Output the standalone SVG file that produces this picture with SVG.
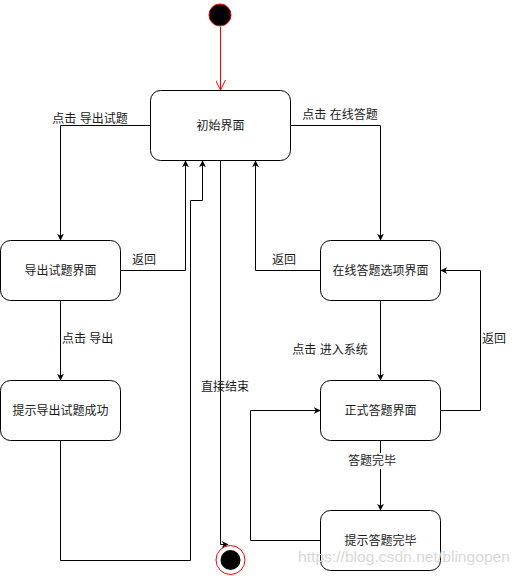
<svg xmlns="http://www.w3.org/2000/svg" width="521" height="576" viewBox="0 0 521 576">
<style>
.node rect{fill:#fff;stroke:#000;stroke-width:1}
text{font-family:"Liberation Sans","Noto Sans CJK SC",sans-serif;font-size:12px;fill:#1a1a1a}
.c{text-anchor:middle;dominant-baseline:central}
.e{fill:none;stroke:#000;stroke-width:1}
.wm{font-size:15px;fill:#d8d8d8;font-family:"Liberation Sans",sans-serif}
</style>
<defs>
<marker id="a" viewBox="0 0 10 10" refX="9" refY="5" markerWidth="7" markerHeight="7" orient="auto" markerUnits="userSpaceOnUse">
<path d="M0,0 L10,5 L0,10 L3,5 Z" fill="#000"/>
</marker>
<marker id="ra" viewBox="0 0 10 10" refX="10" refY="5" markerWidth="10" markerHeight="10" orient="auto" markerUnits="userSpaceOnUse">
<path d="M0,0 L10,5 L0,10" fill="none" stroke="#f00" stroke-width="1"/>
</marker>
</defs>
<g id="start"><circle cx="220" cy="15" r="11" fill="#000" stroke="#f00"/></g>
<g id="n-init" class="node"><rect x="150.5" y="90.5" width="140" height="70" rx="10"/><text class="c" x="220.5" y="125.5">初始界面</text></g>
<g id="n-export" class="node"><rect x="0.5" y="240.5" width="120" height="60" rx="10"/><text class="c" x="60.5" y="270.5">导出试题界面</text></g>
<g id="n-exportok" class="node"><rect x="0.5" y="380.5" width="120" height="60" rx="10"/><text class="c" x="60.5" y="410.5">提示导出试题成功</text></g>
<g id="n-online" class="node"><rect x="320.5" y="240.5" width="120" height="60" rx="10"/><text class="c" x="380.5" y="270.5">在线答题选项界面</text></g>
<g id="n-formal" class="node"><rect x="320.5" y="380.5" width="120" height="60" rx="10"/><text class="c" x="380.5" y="410.5">正式答题界面</text></g>
<g id="n-done" class="node"><rect x="320.5" y="510.5" width="120" height="60" rx="10"/><text class="c" x="380.5" y="540.5">提示答题完毕</text></g>
<g id="end"><circle cx="230.5" cy="560" r="14.5" fill="#fff" stroke="#f00"/><circle cx="230.5" cy="560" r="10" fill="#000"/></g>
<g id="connectors">
<path d="M220.5,27 V90" fill="none" stroke="#f00" marker-end="url(#ra)"/>
<path class="e" d="M150.5,125.5 H60.5 V240" marker-end="url(#a)"/>
<path class="e" d="M120.5,270.5 H185.5 V161" marker-end="url(#a)"/>
<path class="e" d="M60.5,300.5 V380" marker-end="url(#a)"/>
<path class="e" d="M60.5,440.5 V560.5 H190.5 V200.5 H202.5 V161" marker-end="url(#a)"/>
<path class="e" d="M220.5,160.5 V544.5 H228" marker-end="url(#a)"/>
<path class="e" d="M290.5,125.5 H380.5 V240" marker-end="url(#a)"/>
<path class="e" d="M320.5,270.5 H255.5 V161" marker-end="url(#a)"/>
<path class="e" d="M380.5,300.5 V380" marker-end="url(#a)"/>
<path class="e" d="M440.5,410.5 H480.5 V270.5 H441" marker-end="url(#a)"/>
<path class="e" d="M380.5,440.5 V510" marker-end="url(#a)"/>
<path class="e" d="M320.5,540.5 H250.5 V410.5 H320" marker-end="url(#a)"/>
<text class="c" x="90" y="119">点击 导出试题</text>
<text class="c" x="144" y="260">返回</text>
<text x="62" y="339" style="dominant-baseline:central">点击 导出</text>
<text class="c" x="225" y="387">直接结束</text>
<text class="c" x="340" y="115">点击 在线答题</text>
<text class="c" x="284" y="260">返回</text>
<text class="c" x="330" y="350">点击 进入系统</text>
<text class="c" x="494" y="339">返回</text>
<rect x="346" y="453" width="52" height="16" fill="#fff"/>
<text class="c" x="372" y="461">答题完毕</text>
</g>
<text class="wm" x="298" y="562" textLength="212" lengthAdjust="spacingAndGlyphs">https://blog.csdn.net/blingopen</text>
</svg>
